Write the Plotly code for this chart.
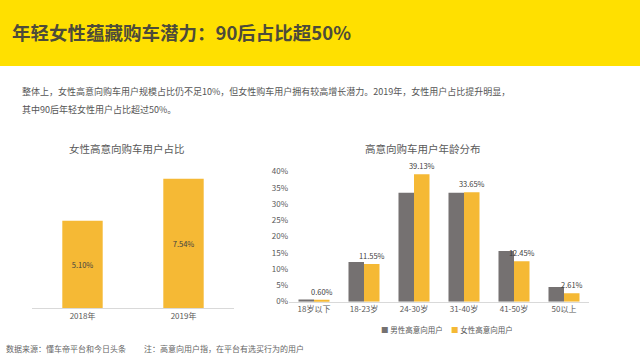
import plotly.graph_objects as go

FONT = "Noto Sans CJK SC"

# ---- data ----
years = ["2018年", "2019年"]
female_share = [5.10, 7.54]
female_share_labels = ["5.10%", "7.54%"]

age_groups = ["18岁以下", "18-23岁", "24-30岁", "31-40岁", "41-50岁", "50以上"]
male_pct = [0.7, 12.2, 33.5, 33.5, 15.6, 4.5]
female_pct = [0.60, 11.55, 39.13, 33.65, 12.45, 2.61]
female_pct_labels = ["0.60%", "11.55%", "39.13%", "33.65%", "12.45%", "2.61%"]
y_ticks = [0, 5, 10, 15, 20, 25, 30, 35, 40]
y_tick_labels = ["0%", "5%", "10%", "15%", "20%", "25%", "30%", "35%", "40%"]
series_names = ["男性高意向用户", "女性高意向用户"]

YELLOW = "#F5B935"
GRAY = "#757171"
TXT = "#595959"

fig = go.Figure()

fig.add_trace(go.Bar(
    x=years, y=female_share, text=female_share_labels,
    textposition="inside", insidetextanchor="middle", constraintext="none",
    textfont=dict(size=7.5, color="#404040", family=FONT),
    marker=dict(color=YELLOW, line=dict(width=0)),
    width=0.4, offset=-0.2, showlegend=False,
    xaxis="x", yaxis="y", hoverinfo="skip",
))

fig.add_trace(go.Bar(
    x=age_groups, y=male_pct, name=series_names[0],
    marker=dict(color=GRAY, line=dict(width=0)),
    width=0.31, offset=-0.31, showlegend=False,
    xaxis="x2", yaxis="y2",
))
fig.add_trace(go.Bar(
    x=age_groups, y=female_pct, name=series_names[1],
    text=female_pct_labels, textposition="outside", constraintext="none",
    textfont=dict(size=7.5, color="#404040", family=FONT),
    marker=dict(color=YELLOW, line=dict(width=0)),
    width=0.31, offset=0.0, cliponaxis=False, showlegend=False,
    xaxis="x2", yaxis="y2",
))

fig.update_layout(
    width=640, height=360, autosize=False,
    margin=dict(l=0, r=0, t=0, b=0, pad=0),
    paper_bgcolor="white", plot_bgcolor="white",
    font=dict(family=FONT, color=TXT),
    barmode="group",
    xaxis=dict(domain=[32/640, 234/640], anchor="y", showline=True,
               linecolor="#d9d9d9", linewidth=1, ticks="",
               tickfont=dict(size=8, color=TXT), showgrid=False),
    yaxis=dict(domain=[1-311.7/360, 1-134.8/360], anchor="x", range=[0, 10],
               visible=False, showgrid=False),
    xaxis2=dict(domain=[289/640, 589/640], anchor="y2", showline=True,
                linecolor="#d9d9d9", linewidth=1, ticks="",
                tickfont=dict(size=8, color=TXT), showgrid=False),
    yaxis2=dict(domain=[1-305/360, 1-170.7/360], anchor="x2", range=[0, 40],
                tickvals=y_ticks, ticktext=y_tick_labels, showgrid=False,
                zeroline=False, showline=False, ticks="",
                tickfont=dict(size=8, color=TXT)),
    showlegend=False,
    shapes=[dict(type="rect", xref="paper", yref="paper", x0=-0.02, x1=1.02,
                 y0=1-62/360, y1=1.03, fillcolor="#FFE000", line=dict(width=0),
                 layer="below")],
)

ann = [
    dict(text="<b>年轻女性蕴藏购车潜力：90后占比超50%</b>", x=10/640, y=1-27/360,
         font=dict(size=18.5, color="#4D4B3A")),
    dict(text="整体上，女性高意向购车用户规模占比仍不足10%，但女性购车用户拥有较高增长潜力。2019年，女性用户占比提升明显，",
         x=20/640, y=1-88/360, font=dict(size=9, color="#555555")),
    dict(text="其中90后年轻女性用户占比超过50%。", x=20/640, y=1-107/360,
         font=dict(size=9, color="#555555")),
    dict(text="女性高意向购车用户占比", x=127/640, y=1-147/360, xanchor="center",
         font=dict(size=10.5, color=TXT)),
    dict(text="高意向购车用户年龄分布", x=423/640, y=1-147/360, xanchor="center",
         font=dict(size=10.5, color=TXT)),
    dict(text="数据来源：懂车帝平台和今日头条", x=4/640, y=1-353/360,
         font=dict(size=8, color="#666666")),
    dict(text="注：高意向用户指，在平台有选买行为的用户", x=142/640, y=1-353/360,
         font=dict(size=8, color="#666666")),
    # legend (as text)
    dict(text=f"<span style='color:{GRAY}'>■</span> {series_names[0]}", x=379/640,
         y=1-334/360, font=dict(size=7.5, color=TXT)),
    dict(text=f"<span style='color:{YELLOW}'>■</span> {series_names[1]}", x=449/640,
         y=1-334/360, font=dict(size=7.5, color=TXT)),
]
for a in ann:
    a.setdefault("xanchor", "left")
    fig.add_annotation(xref="paper", yref="paper", yanchor="middle",
                       showarrow=False, **a)

fig.write_html(
    "out.html",
    config={"displayModeBar": False, "responsive": False},
    default_width="640px", default_height="360px",
    post_script=("document.body.style.margin='0';document.body.style.padding='0';"
                 "document.body.style.overflow='hidden';"
                 "document.documentElement.style.overflow='hidden';"),
)
